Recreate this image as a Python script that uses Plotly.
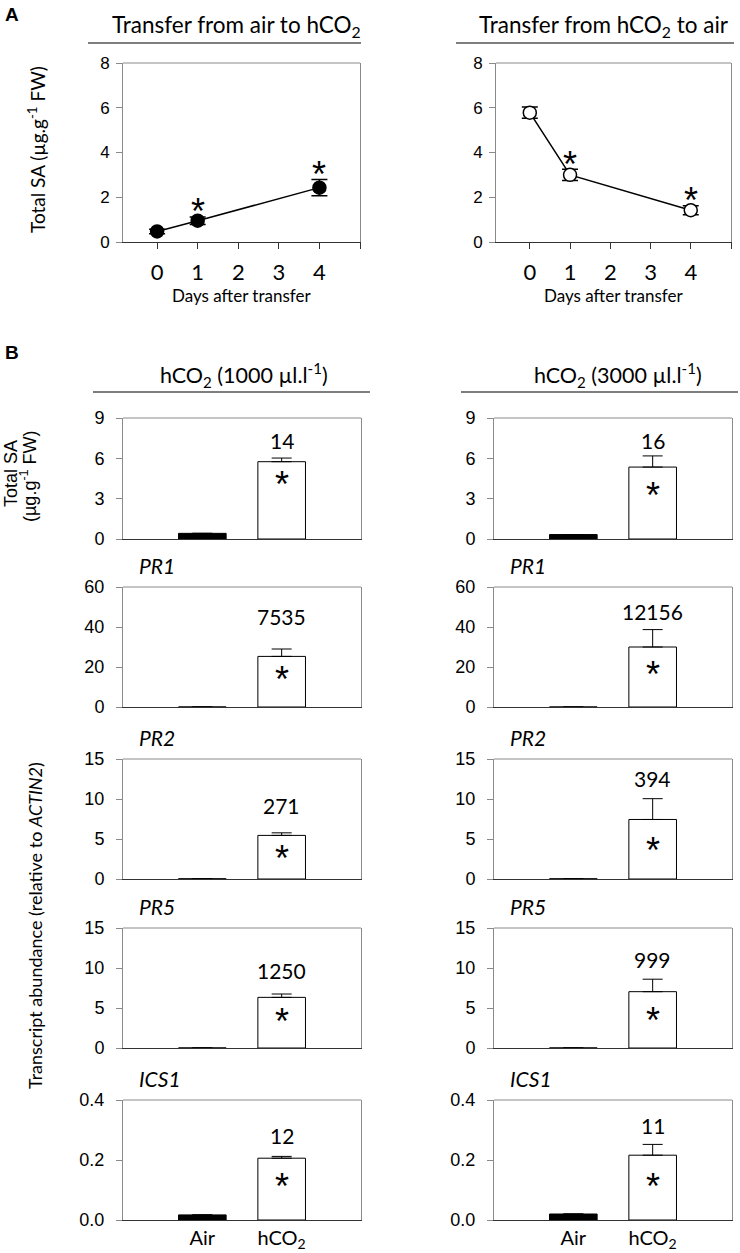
import plotly.graph_objects as go

W, H = 740, 1253

# ---------------- data ----------------
days = [0, 1, 4]
day_ticks = [0, 1, 2, 3, 4, 5]
day_labels = ["0", "1", "2", "3", "4", ""]

sa_air_to_hco2 = [0.47, 0.95, 2.43]
sa_air_to_hco2_err = [0.10, 0.17, 0.36]
sig_air_to_hco2 = [False, True, True]

sa_hco2_to_air = [5.78, 3.00, 1.42]
sa_hco2_to_air_err = [0.25, 0.25, 0.20]
sig_hco2_to_air = [False, True, True]

conditions = ["Air", "hCO<sub>2</sub>"]
measures = ["Total SA", "PR1", "PR2", "PR5", "ICS1"]
y_max = [9, 60, 15, 15, 0.4]
y_step = [3, 20, 5, 5, 0.2]

air_1000 = [0.42, 0.0034, 0.020, 0.005, 0.017]
hco2_1000 = [5.75, 25.3, 5.45, 6.33, 0.206]
hco2_1000_err = [0.27, 3.7, 0.32, 0.42, 0.006]
fold_1000 = ["14", "7535", "271", "1250", "12"]

air_3000 = [0.33, 0.0025, 0.019, 0.007, 0.020]
hco2_3000 = [5.35, 30.0, 7.44, 7.04, 0.216]
hco2_3000_err = [0.83, 8.7, 2.6, 1.56, 0.036]
fold_3000 = ["16", "12156", "394", "999", "11"]

# ---------------- styling / layout config ----------------
SANS = "Liberation Sans"
CAL = "Lato"
BOX = "#8a8a8a"
DARK = "#333333"

def py(p):  # pixel y -> paper
    return 1 - p / H

def px(p):
    return p / W

fig = go.Figure()
layout = dict(width=W, height=H, margin=dict(l=0, r=0, t=0, b=0, autoexpand=False),
              paper_bgcolor="white", plot_bgcolor="white", showlegend=False,
              autosize=False)
annotations = []
shapes = []

def text(xp, yp, s, family, size, angle=0, xanchor="center"):
    annotations.append(dict(x=px(xp), y=py(yp), xref="paper", yref="paper", text=s,
                            textangle=angle, showarrow=False, xanchor=xanchor,
                            yanchor="middle",
                            font=dict(family=family, size=size, color="black")))

def add_axes(i, xdom, ydom, xkw, ykw, ytick_size, standoff):
    xa = "xaxis" if i == 1 else f"xaxis{i}"
    ya = "yaxis" if i == 1 else f"yaxis{i}"
    ref = "" if i == 1 else str(i)
    base = dict(showgrid=False, zeroline=False, showline=True, linewidth=1,
                fixedrange=True, automargin=False)
    xd = dict(base, domain=[px(xdom[0]), px(xdom[1])], anchor=f"y{ref}",
              linecolor=DARK, mirror=False)
    xd.update(xkw)
    yd = dict(base, domain=[py(ydom[1]), py(ydom[0])], anchor=f"x{ref}",
              linecolor=BOX, mirror=True, ticks="outside", ticklen=6, tickcolor=BOX,
              tickfont=dict(family=SANS, size=ytick_size, color="black"),
              ticklabelstandoff=standoff)
    yd.update(ykw)
    layout[xa] = xd
    layout[ya] = yd
    shapes.append(dict(type="line", xref=f"x{ref} domain", yref=f"y{ref} domain",
                       x0=0, x1=1, y0=1, y1=1, line=dict(color=BOX, width=1)))

# ---------------- Panel A ----------------
a_panels = [
    (1, (123, 360), sa_air_to_hco2, sa_air_to_hco2_err, sig_air_to_hco2, "black",
     "Transfer from air to hCO<sub>2</sub>", 236, (88, 361)),
    (2, (496, 731), sa_hco2_to_air, sa_hco2_to_air_err, sig_hco2_to_air, "white",
     "Transfer from hCO<sub>2</sub> to air", 604, (456, 734)),
]
for i, xdom, vals, errs, sig, fill, title, tx, (l0, l1) in a_panels:
    ref = "" if i == 1 else str(i)
    add_axes(i, xdom, (63, 242),
             dict(range=[-0.84, 5.0], tickvals=day_ticks, ticktext=day_labels,
                  ticks="outside", ticklen=6, tickcolor=DARK,
                  tickfont=dict(family=CAL, size=22, color="black"),
                  ticklabelstandoff=5),
             dict(range=[0, 8], tickvals=[0, 2, 4, 6, 8]), 17, 3)
    fig.add_trace(go.Scatter(
        x=days, y=vals, mode="lines+markers", xaxis=f"x{ref}", yaxis=f"y{ref}",
        line=dict(color="black", width=1.5),
        marker=dict(size=13, color=fill, line=dict(color="black", width=1.5)),
        error_y=dict(type="data", array=errs, color="black", thickness=1.5, width=8),
        cliponaxis=False, hoverinfo="skip"))
    for d, v, e, s in zip(days, vals, errs, sig):
        if s:
            annotations.append(dict(x=d, y=v + e, xref=f"x{ref}", yref=f"y{ref}",
                                    text="*", showarrow=False, xanchor="center",
                                    yanchor="middle", yshift=5,
                                    font=dict(family=SANS, size=36, color="black")))
    text(tx, 26, title, CAL, 22.5)
    text((xdom[0] + xdom[1]) / 2, 295, "Days after transfer", CAL, 17)
    shapes.append(dict(type="line", xref="paper", yref="paper", x0=px(l0), x1=px(l1),
                       y0=py(43), y1=py(43), line=dict(color="#555555", width=1.5)))

text(37, 150, "Total SA (µg.g<sup>-1</sup> FW)", CAL, 19, angle=-90)
text(3, 15, "<b>A</b>", SANS, 19, xanchor="left")
text(3, 352, "<b>B</b>", SANS, 19, xanchor="left")

# ---------------- Panel B ----------------
row_y = [(418, 539), (587, 707), (759, 879), (928, 1048), (1100, 1220)]
gene_label_y = [None, 565, 737, 906, 1078]
label_shift = {1000: [18, 32, 27, 24, 21], 3000: [15, 18, 20, 20, 19]}
star_shift = {1000: [-17, -17, -17, -18, -22], 3000: [-22, -22, -25, -23, -25]}

cols = [
    (1000, (123, 361), air_1000, hco2_1000, hco2_1000_err, fold_1000,
     "hCO<sub>2</sub> (1000 µl.l<sup>-1</sup>)", 244, (93, 370)),
    (3000, (494, 732), air_3000, hco2_3000, hco2_3000_err, fold_3000,
     "hCO<sub>2</sub> (3000 µl.l<sup>-1</sup>)", 618, (461, 738)),
]
idx = 3
for key, xdom, airv, hv, he, fold, title, tx, (l0, l1) in cols:
    for r, meas in enumerate(measures):
        ref = str(idx)
        last = r == len(measures) - 1
        ytv = [round(k * y_step[r], 3) for k in range(int(round(y_max[r] / y_step[r])) + 1)]
        ykw = dict(range=[0, y_max[r]], tickvals=ytv)
        if y_max[r] < 1:
            ykw["tickformat"] = ".1f"
        add_axes(idx, xdom, row_y[r],
                 dict(range=[-1, 2], tickvals=[0, 1], ticktext=conditions,
                      showticklabels=last, ticks="",
                      tickfont=dict(family=CAL, size=20, color="black"),
                      ticklabelstandoff=0),
                 ykw, 18, 8)
        fig.add_trace(go.Bar(
            x=[0, 1], y=[airv[r], hv[r]], width=0.6, xaxis=f"x{ref}", yaxis=f"y{ref}",
            marker=dict(color=["black", "white"], line=dict(color="black", width=1)),
            error_y=dict(type="data", symmetric=False, array=[0, he[r]],
                         arrayminus=[0, 0], color="black", thickness=1, width=10),
            hoverinfo="skip"))
        top = hv[r] + he[r]
        annotations.append(dict(x=1, y=top, xref=f"x{ref}", yref=f"y{ref}", text=fold[r],
                                showarrow=False, xanchor="center", yanchor="middle",
                                yshift=label_shift[key][r],
                                font=dict(family=CAL, size=21, color="black")))
        annotations.append(dict(x=1, y=hv[r], xref=f"x{ref}", yref=f"y{ref}", text="*",
                                showarrow=False, xanchor="center", yanchor="middle",
                                yshift=star_shift[key][r] - 6,
                                font=dict(family=SANS, size=36, color="black")))
        if gene_label_y[r] is not None:
            text(xdom[0] + 14, gene_label_y[r], f"<i>{meas}</i>", CAL, 21, xanchor="left")
        idx += 1
    text(tx, 375, title, CAL, 21.5)
    shapes.append(dict(type="line", xref="paper", yref="paper", x0=px(l0), x1=px(l1),
                       y0=py(392), y1=py(392), line=dict(color="#555555", width=1.5)))

text(11, 474, "Total SA", SANS, 18, angle=-90)
text(28, 476, "(µg.g<sup>-1</sup> FW)", SANS, 18, angle=-90)
text(35, 926, "Transcript abundance (relative to <i>ACTIN2</i>)", CAL, 18, angle=-90)

layout["annotations"] = annotations
layout["shapes"] = shapes
fig.update_layout(**layout)
fig.write_html("out.html", config={"displayModeBar": False},
               post_script="document.body.style.margin='0';document.body.style.overflow='hidden';")
